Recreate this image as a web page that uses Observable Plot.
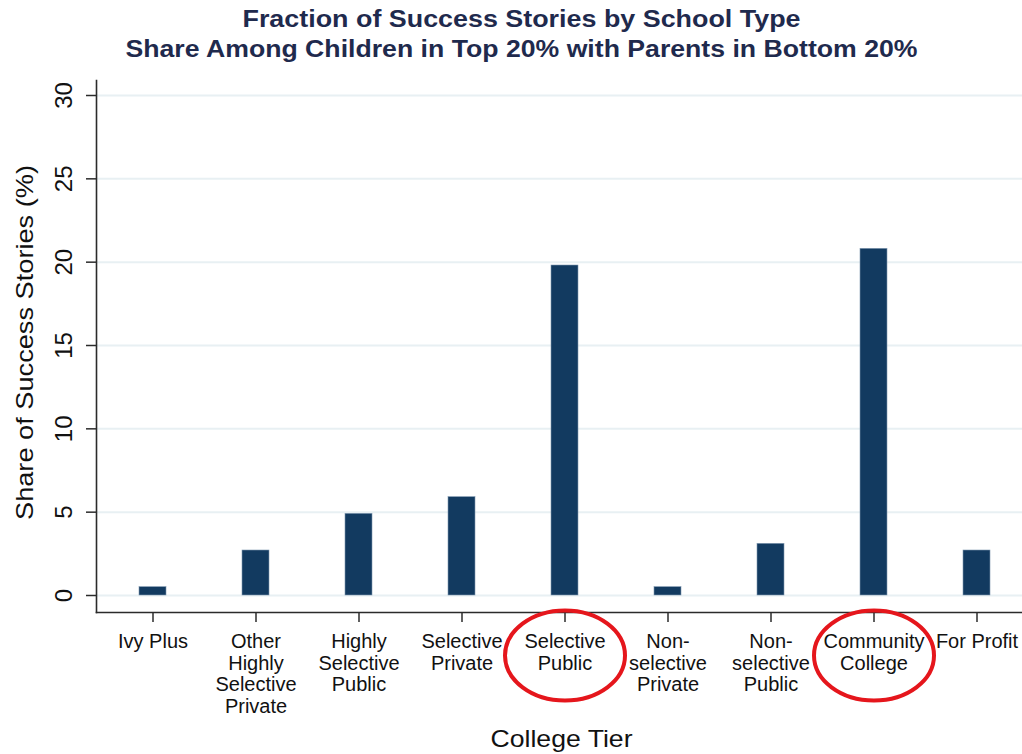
<!DOCTYPE html>
<html>
<head>
<meta charset="utf-8">
<script src="https://cdn.jsdelivr.net/npm/d3@7"></script>
<script src="https://cdn.jsdelivr.net/npm/@observablehq/plot@0.6"></script>
<style>
  html, body { margin: 0; padding: 0; background: #fff; }
  #chart svg { display: block; }
</style>
</head>
<body>
<div id="chart"></div>
<script>
// ---- data ----
const categories = ["Ivy Plus", "Other Highly Selective Private", "Highly Selective Public", "Selective Private", "Selective Public", "Non-selective Private", "Non-selective Public", "Community College", "For Profit"];
const tickLabels = ["Ivy Plus", "Other\nHighly\nSelective\nPrivate", "Highly\nSelective\nPublic", "Selective\nPrivate", "Selective\nPublic", "Non-\nselective\nPrivate", "Non-\nselective\nPublic", "Community\nCollege", "For Profit"];
const shares = [0.5, 2.7, 4.9, 5.9, 19.8, 0.5, 3.1, 20.8, 2.7];
const yTicks = [0, 5, 10, 15, 20, 25, 30];
const highlighted = ["Selective Public", "Community College"];
const titleLines = ["Fraction of Success Stories by School Type", "Share Among Children in Top 20% with Parents in Bottom 20%"];
const xLabel = "College Tier";
const yLabel = "Share of Success Stories (%)";

const rows = categories.map((c, i) => ({category: c, share: shares[i]}));

const font = "'Liberation Sans', Arial, Helvetica, sans-serif";
const axisColor = "#2b2b2b";

const ellipseSymbol = {
  draw(ctx) {
    const rx = 60, ry = 45, k = 0.5523;
    ctx.moveTo(rx, 0);
    ctx.bezierCurveTo(rx, ry * k, rx * k, ry, 0, ry);
    ctx.bezierCurveTo(-rx * k, ry, -rx, ry * k, -rx, 0);
    ctx.bezierCurveTo(-rx, -ry * k, -rx * k, -ry, 0, -ry);
    ctx.bezierCurveTo(rx * k, -ry, rx, -ry * k, rx, 0);
    ctx.closePath();
  }
};

const chart = Plot.plot({
  width: 1022,
  height: 754,
  marginTop: 80,
  marginBottom: 142,
  marginLeft: 96,
  marginRight: 0,
  style: {fontFamily: font, background: "#fff", color: "#111"},
  x: {type: "band", domain: categories, range: [100, 1028], paddingInner: 0.739, paddingOuter: 0.3695, align: 0.5, label: null},
  y: {domain: [0, 30], range: [595, 95], label: null},
  marks: [
    Plot.gridY(yTicks, {stroke: "#e8f0f3", strokeOpacity: 1, strokeWidth: 2}),
    Plot.barY(rows, {x: "category", y: "share", fill: "#123a60", stroke: "#7f97b0", strokeWidth: 0.6}),
    Plot.frame({anchor: "left", stroke: axisColor, strokeWidth: 1.6}),
    Plot.frame({anchor: "bottom", stroke: axisColor, strokeWidth: 1.6}),
    Plot.axisX({tickSize: 10, tickPadding: 10, fontSize: 20, lineHeight: 1.085, stroke: axisColor, strokeWidth: 1.5, fill: "#111",
      tickFormat: (d) => tickLabels[categories.indexOf(d)], label: null}),
    Plot.axisY({ticks: yTicks, tickSize: 10, tickPadding: 15, tickRotate: -90, fontSize: 24, stroke: axisColor, strokeWidth: 1.5, fill: "#111", label: null}),
    Plot.text([yLabel], {frameAnchor: "left", textAnchor: "middle", lineAnchor: "middle", rotate: -90, dx: -71, dy: -4, fontSize: 24, fill: "#111"}),
    Plot.text([xLabel], {frameAnchor: "bottom", textAnchor: "middle", lineAnchor: "middle", dx: 2, dy: 127, fontSize: 24, fill: "#111"}),
    Plot.text([titleLines[0]], {frameAnchor: "top", textAnchor: "middle", lineAnchor: "middle", dx: -38, dy: -61, fontSize: 23, fontWeight: "bold", fill: "#1f2a4d"}),
    Plot.text([titleLines[1]], {frameAnchor: "top", textAnchor: "middle", lineAnchor: "middle", dx: -38, dy: -31, fontSize: 23, fontWeight: "bold", fill: "#1f2a4d"}),
    Plot.dot(highlighted, {x: (d) => d, frameAnchor: "bottom", dy: 43, symbol: ellipseSymbol, stroke: "#e5161c", strokeWidth: 4, fill: "none"})
  ]
});

// stretch single-line labels horizontally to match the reference's wider lettering
const stretch = new Map([[titleLines[0], 558], [titleLines[1], 792], [xLabel, 142], [yLabel, 355]]);
d3.select(chart).selectAll("text").each(function () {
  const len = stretch.get(this.textContent);
  if (len) {
    this.setAttribute("textLength", len);
    this.setAttribute("lengthAdjust", "spacingAndGlyphs");
  }
});
document.getElementById("chart").appendChild(chart);
</script>
</body>
</html>
